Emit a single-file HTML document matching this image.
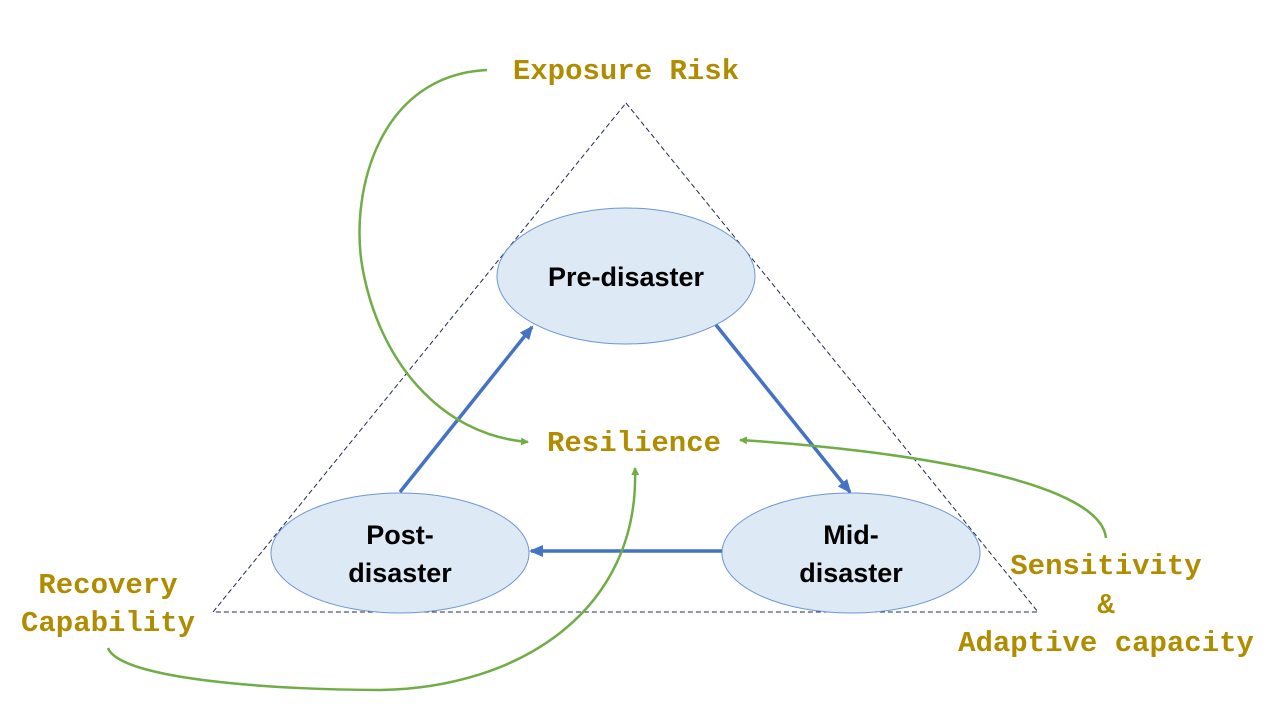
<!DOCTYPE html>
<html><head><meta charset="utf-8"><style>
html,body{margin:0;padding:0;background:#fff;width:1280px;height:720px;overflow:hidden}
</style></head><body>
<svg width="1280" height="720" viewBox="0 0 1280 720" xmlns="http://www.w3.org/2000/svg">
<defs>
<marker id="g" markerWidth="8" markerHeight="8" refX="7" refY="4" orient="auto" markerUnits="userSpaceOnUse"><path d="M0,0 L8,4 L0,8 Z" fill="#70ad47"/></marker>
<marker id="b" markerWidth="14" markerHeight="12" refX="12" refY="6" orient="auto" markerUnits="userSpaceOnUse"><path d="M0,0 L14,6 L0,12 Z" fill="#4472c4"/></marker>
</defs>
<polygon points="626,103 1038,612 213,612" fill="none" stroke="#1f2a4a" stroke-width="1" stroke-dasharray="5,3"/>
<ellipse cx="626" cy="276" rx="129" ry="68" fill="#dde9f5" stroke="#6f96d4" stroke-width="1"/>
<ellipse cx="400" cy="553" rx="129" ry="60" fill="#dde9f5" stroke="#6f96d4" stroke-width="1"/>
<ellipse cx="851" cy="553" rx="129" ry="60" fill="#dde9f5" stroke="#6f96d4" stroke-width="1"/>
<g stroke="#4472c4" stroke-width="3.5" fill="none">
<line x1="400" y1="492" x2="532" y2="327" marker-end="url(#b)"/>
<line x1="716" y1="325" x2="850" y2="492" marker-end="url(#b)"/>
<line x1="722" y1="551" x2="531" y2="551" marker-end="url(#b)"/>
</g>
<g stroke="#70ad47" stroke-width="2.5" fill="none">
<path d="M487,70 C380,75 350,190 362,265 C378,360 440,435 528,442" marker-end="url(#g)"/>
<path d="M108,648 C120,680 280,690 380,690 C520,688 640,610 635,468" marker-end="url(#g)"/>
<path d="M1106,538 C1100,480 900,450 740,440" marker-end="url(#g)"/>
</g>
<g font-family="Liberation Sans, sans-serif" font-weight="bold" font-size="27" fill="#000" text-anchor="middle">
<text x="626" y="286">Pre-disaster</text>
<text x="400" y="544">Post-</text>
<text x="400" y="582">disaster</text>
<text x="851" y="544">Mid-</text>
<text x="851" y="582">disaster</text>
</g>
<g font-family="Liberation Mono, monospace" font-weight="bold" font-size="29" fill="#b08c00" text-anchor="middle">
<text x="626" y="79">Exposure Risk</text>
<text x="634" y="451">Resilience</text>
<text x="108" y="593">Recovery</text>
<text x="108" y="631">Capability</text>
<text x="1106" y="574">Sensitivity</text>
<text x="1106" y="613">&amp;</text>
<text x="1106" y="651">Adaptive capacity</text>
</g>
</svg>
</body></html>
